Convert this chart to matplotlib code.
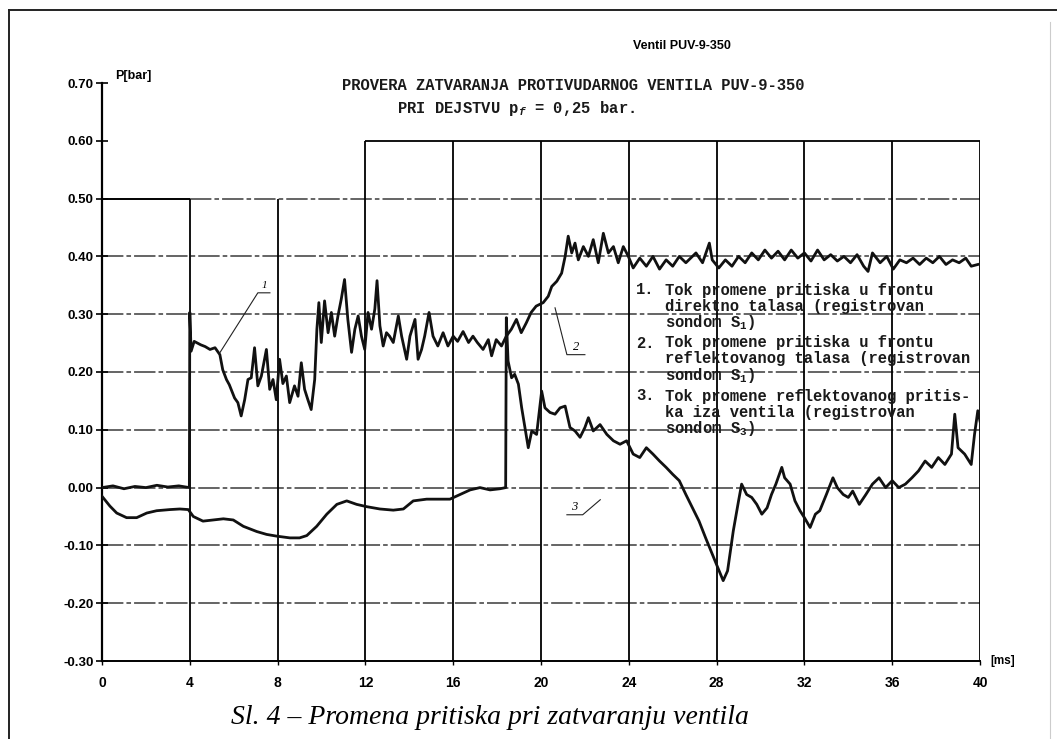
import numpy as np
import matplotlib
matplotlib.use("Agg")
import matplotlib.pyplot as plt
from matplotlib.lines import Line2D

plt.rcParams['mathtext.fontset'] = 'custom'
plt.rcParams['mathtext.rm'] = 'Liberation Mono:bold'
plt.rcParams['mathtext.it'] = 'Liberation Mono:italic:bold'

W, H = 1057, 739

# pressure at probe S1 (direct wave, then reflected wave), t [ms], p [bar]
t_s1 = [
    0.0, 0.5, 1.0, 1.5, 2.0, 2.5, 3.0, 3.5, 3.98, 4.0,
    4.06, 4.2, 4.5, 4.7, 4.92, 5.15, 5.37, 5.5, 5.67, 5.8,
    6.04, 6.19, 6.34, 6.5, 6.65, 6.8, 6.95, 7.1, 7.26, 7.49,
    7.64, 7.79, 7.94, 8.09, 8.24, 8.4, 8.55, 8.77, 8.93, 9.08,
    9.23, 9.38, 9.53, 9.69, 9.79, 9.88, 9.99, 10.14, 10.3, 10.45,
    10.6, 10.75, 10.9, 11.05, 11.2, 11.37, 11.52, 11.67, 11.82, 11.97,
    12.12, 12.28, 12.43, 12.53, 12.66, 12.81, 12.96, 13.1, 13.27, 13.5,
    13.65, 13.88, 14.03, 14.26, 14.4, 14.56, 14.7, 14.9, 15.08, 15.3,
    15.54, 15.76, 16.0, 16.2, 16.45, 16.7, 16.9, 17.1, 17.36, 17.6,
    17.75, 17.96, 18.2, 18.42, 18.65, 18.88, 19.1, 19.33, 19.55, 19.78,
    20.1, 20.33, 20.49, 20.72, 20.94, 21.1, 21.24, 21.4, 21.55, 21.7,
    21.93, 22.16, 22.38, 22.61, 22.84, 23.07, 23.3, 23.52, 23.75, 23.98,
    24.2, 24.5, 24.8, 25.1, 25.4, 25.7, 26.0, 26.3, 26.6, 27.06,
    27.36, 27.67, 27.8, 28.1, 28.4, 28.7, 29.0, 29.3, 29.6, 29.9,
    30.2, 30.5, 30.8, 31.1, 31.4, 31.7, 32.0, 32.3, 32.6, 32.9,
    33.2, 33.5, 33.8, 34.1, 34.4, 34.7, 34.9, 35.1, 35.45, 35.75,
    36.05, 36.35, 36.65, 36.95, 37.25, 37.55, 37.85, 38.15, 38.45, 38.75,
    39.05, 39.35, 39.6, 39.9]
p_s1 = [
    0.0, 0.003, -0.002, 0.002, 0.0, 0.004, 0.001, 0.003, 0.0, 0.303,
    0.236, 0.253, 0.247, 0.244, 0.239, 0.242, 0.230, 0.204, 0.187, 0.178,
    0.155, 0.147, 0.124, 0.152, 0.187, 0.19, 0.242, 0.176, 0.193, 0.239,
    0.170, 0.187, 0.152, 0.222, 0.18, 0.193, 0.147, 0.176, 0.158, 0.216,
    0.17, 0.152, 0.135, 0.187, 0.274, 0.32, 0.251, 0.323, 0.268, 0.303,
    0.262, 0.297, 0.326, 0.36, 0.291, 0.234, 0.274, 0.297, 0.262, 0.239,
    0.303, 0.274, 0.309, 0.358, 0.28, 0.245, 0.268, 0.262, 0.251, 0.297,
    0.262, 0.222, 0.262, 0.291, 0.222, 0.239, 0.262, 0.303, 0.262, 0.245,
    0.268, 0.245, 0.262, 0.253, 0.27, 0.251, 0.262, 0.251, 0.239, 0.256,
    0.228, 0.256, 0.245, 0.262, 0.274, 0.291, 0.268, 0.285, 0.303, 0.314,
    0.32, 0.331, 0.348, 0.357, 0.371, 0.40, 0.435, 0.406, 0.423, 0.394,
    0.417, 0.40, 0.429, 0.389, 0.44, 0.406, 0.417, 0.389, 0.417, 0.40,
    0.38, 0.397, 0.383, 0.40, 0.378, 0.394, 0.383, 0.40, 0.389, 0.406,
    0.389, 0.423, 0.394, 0.38, 0.394, 0.383, 0.40, 0.389, 0.406, 0.394,
    0.411, 0.397, 0.409, 0.394, 0.411, 0.397, 0.406, 0.392, 0.411, 0.394,
    0.403, 0.392, 0.40, 0.389, 0.403, 0.383, 0.374, 0.406, 0.389, 0.40,
    0.378, 0.394, 0.389, 0.397, 0.386, 0.397, 0.389, 0.40, 0.386, 0.394,
    0.389, 0.397, 0.383, 0.386]

# pressure behind the valve, probe S3
t_s3 = [
    0.0, 0.36, 0.67, 1.12, 1.58, 2.04, 2.49, 3.1, 3.55, 3.93,
    4.16, 4.6, 5.07, 5.53, 5.98, 6.44, 7.05, 7.5, 7.96, 8.56,
    9.0, 9.33, 9.78, 10.24, 10.7, 11.15, 11.6, 12.06, 12.66, 13.27,
    13.73, 14.18, 14.79, 15.4, 15.85, 16.31, 16.77, 17.22, 17.68, 18.13,
    18.39, 18.42, 18.5, 18.66, 18.8, 18.97, 19.12, 19.27, 19.42, 19.58,
    19.8, 20.03, 20.18, 20.41, 20.64, 20.87, 21.1, 21.32, 21.55, 21.78,
    22.0, 22.16, 22.38, 22.69, 23.0, 23.3, 23.6, 23.9, 24.2, 24.5,
    24.8, 25.1, 25.4, 25.7, 26.0, 26.3, 26.6, 26.9, 27.2, 27.5,
    27.8, 28.05, 28.3, 28.5, 28.76, 29.0, 29.14, 29.37, 29.6, 29.83,
    30.06, 30.3, 30.5, 30.7, 30.97, 31.1, 31.35, 31.57, 31.8, 32.0,
    32.26, 32.5, 32.7, 33.0, 33.3, 33.5, 33.77, 34.0, 34.2, 34.5,
    34.8, 35.1, 35.4, 35.7, 36.0, 36.3, 36.6, 36.9, 37.2, 37.5,
    37.8, 38.1, 38.4, 38.7, 38.85, 39.0, 39.3, 39.6, 39.75, 39.9,
    40.0]
p_s3 = [
    -0.015, -0.032, -0.044, -0.052, -0.052, -0.044, -0.040, -0.038, -0.037, -0.038,
    -0.050, -0.058, -0.056, -0.054, -0.056, -0.067, -0.076, -0.081, -0.084, -0.087,
    -0.087, -0.083, -0.067, -0.046, -0.029, -0.023, -0.029, -0.033, -0.037, -0.039,
    -0.037, -0.023, -0.020, -0.020, -0.020, -0.012, -0.004, 0.0, -0.004, -0.002,
    0.0, 0.294, 0.219, 0.19, 0.196, 0.179, 0.138, 0.104, 0.069, 0.098,
    0.092, 0.167, 0.138, 0.130, 0.127, 0.138, 0.141, 0.104, 0.098, 0.087,
    0.104, 0.121, 0.098, 0.109, 0.092, 0.081, 0.075, 0.081, 0.058, 0.052,
    0.069, 0.058, 0.046, 0.035, 0.023, 0.012, -0.012, -0.035, -0.058, -0.087,
    -0.115, -0.138, -0.161, -0.144, -0.075, -0.023, 0.006, -0.012, -0.017, -0.029,
    -0.046, -0.035, -0.012, 0.006, 0.035, 0.017, 0.006, -0.023, -0.040, -0.052,
    -0.069, -0.046, -0.040, -0.012, 0.017, 0.0, -0.012, -0.017, -0.006, -0.029,
    -0.012, 0.006, 0.017, 0.0, 0.012, 0.0, 0.006, 0.017, 0.029, 0.046,
    0.035, 0.052, 0.040, 0.058, 0.127, 0.069, 0.058, 0.040, 0.092, 0.133,
    0.115]

x_ticks = [0, 4, 8, 12, 16, 20, 24, 28, 32, 36, 40]
y_ticks = [0.70, 0.60, 0.50, 0.40, 0.30, 0.20, 0.10, 0.00, -0.10, -0.20, -0.30]
y_labels = ["0.70", "0.60", "0.50", "0.40", "0.30", "0.20", "0.10", "0.00",
            "-0.10", "-0.20", "-0.30"]

legend_lines = [
    ("1.", ["Tok promene pritiska u frontu",
            "direktno talasa (registrovan",
            r"sondom $\mathrm{S}_1$)"]),
    ("2.", ["Tok promene pritiska u frontu",
            "reflektovanog talasa (registrovan",
            r"sondom $\mathrm{S}_1$)"]),
    ("3.", ["Tok promene reflektovanog pritis-",
            "ka iza ventila (registrovan",
            r"sondom $\mathrm{S}_3$)"]),
]


def fp(x, y):
    # pixel position -> figure fraction
    return x / W, 1 - y / H


fig = plt.figure(figsize=(W / 100, H / 100), dpi=100)
ax = fig.add_axes([102 / W, 1 - 661 / H, 878 / W, 578 / H])
ax.set_xlim(0, 40)
ax.set_ylim(-0.30, 0.70)

# grid: stepped top edge like the recorder paper
hcol = '#3a3a3a'
for y in [0.40, 0.30, 0.20, 0.10, 0.00, -0.10, -0.20]:
    ax.hlines(y, 0, 40, color=hcol, lw=1.1, ls=(0, (14, 2, 3, 2)), zorder=1)
ax.hlines(0.50, 0, 4, color='k', lw=1.4, zorder=1)
ax.hlines(0.50, 4, 40, color=hcol, lw=1.1, ls=(0, (14, 2, 3, 2)), zorder=1)
ax.hlines(0.60, 12, 40, color='k', lw=1.3, zorder=1)
for x in [4, 8]:
    ax.vlines(x, -0.30, 0.50, color='k', lw=1.3, zorder=1)
for x in [12, 16, 20, 24, 28, 32, 36, 40]:
    ax.vlines(x, -0.30, 0.60, color='k', lw=1.3, zorder=1)

ax.plot(t_s1, p_s1, color='#111111', lw=2.0, zorder=3)
ax.plot(t_s3, p_s3, color='#111111', lw=2.0, zorder=3)

# leader lines with curve numbers
lk = dict(color='#222222', lw=0.8, clip_on=False, zorder=4)
ax.plot([5.38, 7.1, 7.65], [0.234, 0.337, 0.337], **lk)
ax.text(7.38, 0.342, "1", fontsize=8, family='Liberation Serif', style='italic', ha='center', va='bottom')
ax.plot([20.64, 21.18, 22.0], [0.311, 0.230, 0.230], **lk)
ax.text(21.62, 0.233, "2", fontsize=9, family='Liberation Serif', style='italic', ha='center', va='bottom')
ax.plot([21.18, 21.9, 22.7], [-0.047, -0.047, -0.021], **lk)
ax.text(21.5, -0.044, "3", fontsize=9, family='Liberation Serif', style='italic', ha='center', va='bottom')

for s in ['top', 'right']:
    ax.spines[s].set_visible(False)
ax.spines['left'].set_linewidth(1.6)
ax.spines['bottom'].set_linewidth(1.4)
ax.set_xticks(x_ticks)
ax.set_xticklabels([str(v) for v in x_ticks])
ax.set_yticks(y_ticks)
ax.set_yticklabels(y_labels)
ax.tick_params(axis='y', direction='inout', length=8, width=1.2, pad=2)
ax.tick_params(axis='x', direction='out', length=3, width=1.0, pad=8)
for lab in ax.get_yticklabels():
    lab.set_fontfamily('Liberation Sans')
    lab.set_fontweight('bold')
    lab.set_fontsize(9.5)
for lab in ax.get_xticklabels():
    lab.set_fontfamily('Liberation Sans')
    lab.set_fontweight('bold')
    lab.set_fontsize(10)

fig.text(*fp(115, 76), "P[bar]", fontsize=9, family='Liberation Sans', weight='bold', va='center')
fig.text(*fp(990, 661), "[ms]", fontsize=8.5, family='Liberation Sans', weight='bold', va='center')

mono = dict(family='Liberation Mono', fontsize=11.2, weight='bold', color='#1a1a1a')
fig.text(*fp(682, 46), "Ventil PUV-9-350", fontsize=9, family='Liberation Sans', weight='bold',
         ha='center', va='center')
fig.text(*fp(573, 86), "PROVERA ZATVARANJA PROTIVUDARNOG VENTILA PUV-9-350", ha='center', va='center', **mono)
fig.text(*fp(397, 108), r"PRI DEJSTVU $\mathrm{p}_f$ = 0,25 bar.", ha='left', va='center', **mono)

y0 = 290
for num, lines in legend_lines:
    fig.text(*fp(636, y0), num, ha='left', va='center', **mono)
    for i, line in enumerate(lines):
        fig.text(*fp(665, y0 + 16 * i), line, ha='left', va='center', **mono)
    y0 += 53

fig.text(*fp(490, 717), "Sl. 4 \u2013 Promena pritiska pri zatvaranju ventila", family='Liberation Serif',
         style='italic', fontsize=20, ha='center', va='center')

# page frame of the scanned sheet
fig.add_artist(Line2D([9 / W, 9 / W], [0, 1 - 10 / H], color='#222222', lw=1.4))
fig.add_artist(Line2D([9 / W, 1], [1 - 10 / H, 1 - 10 / H], color='#222222', lw=1.4))
fig.add_artist(Line2D([1050 / W, 1050 / W], [0, 1 - 22 / H], color='#cccccc', lw=0.8))

fig.savefig("out.png", dpi=100)
